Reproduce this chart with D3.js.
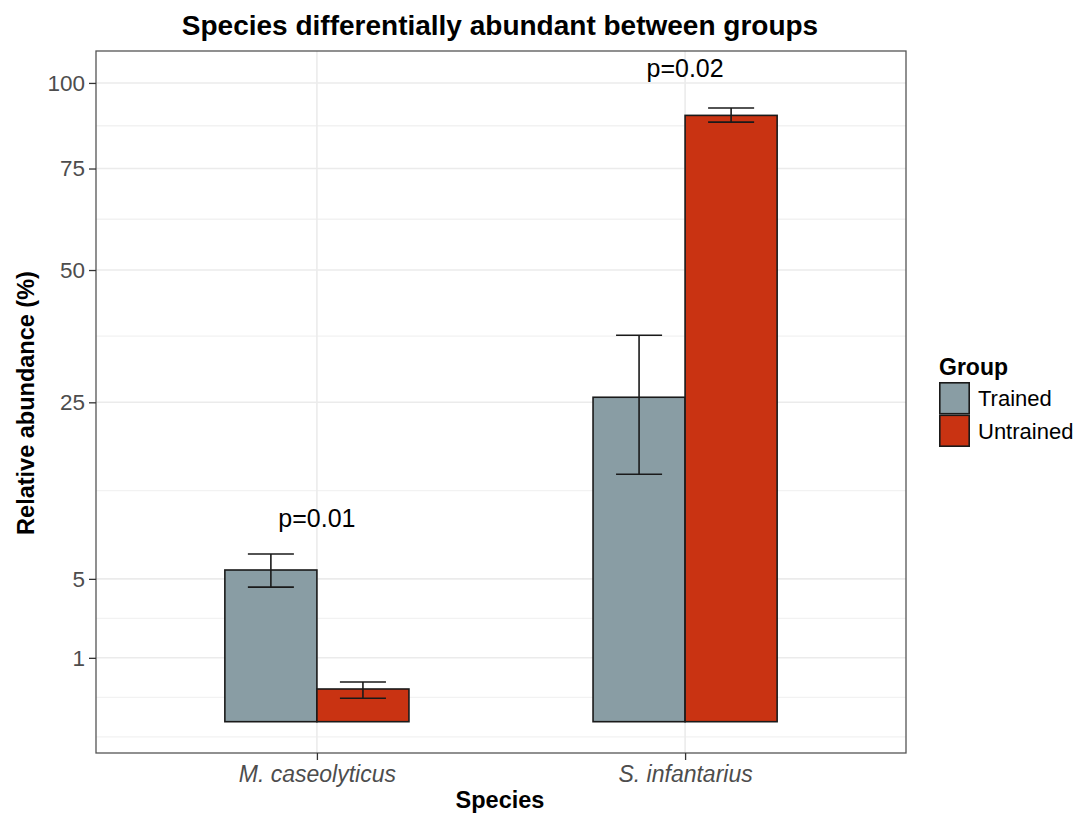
<!DOCTYPE html>
<html>
<head>
<meta charset="utf-8">
<script src="https://cdn.jsdelivr.net/npm/d3@7"></script>
<style>
  html, body { margin: 0; padding: 0; background: #fff; }
  svg { display: block; font-family: "Liberation Sans", Arial, Helvetica, sans-serif; }
</style>
</head>
<body>
<svg id="chart" width="1087" height="818"></svg>
<script>
// Mean relative abundance (%) with error bar limits, per species and group
const species = ["M. caseolyticus", "S. infantarius"];
const groups = ["Trained", "Untrained"];
const groupColors = ["#899DA4", "#C93312"];

const trainedMean = [5.64, 25.8];
const trainedLow  = [4.44, 15.0];
const trainedHigh = [6.89, 36.6];

const untrainedMean = [0.262, 90.1];
const untrainedLow  = [0.134, 88.1];
const untrainedHigh = [0.386, 92.3];

// Significance annotations above each species
const pLabels = ["p=0.01", "p=0.02"];
const pLabelY = [10.2, 104.6];

// Y axis breaks (square-root scale)
const yTicks = [1, 5, 25, 50, 75, 100];

const rows = [];
species.forEach((s, i) => {
  rows.push({ species: s, group: groups[0], mean: trainedMean[i], low: trainedLow[i], high: trainedHigh[i] });
  rows.push({ species: s, group: groups[1], mean: untrainedMean[i], low: untrainedLow[i], high: untrainedHigh[i] });
});

const svg = d3.select("#chart");
const panel = { left: 96, right: 906, top: 51, bottom: 753 };

const x = d3.scalePoint().domain(species).range([panel.left, panel.right]).padding(0.6);
const step = x.step();
const xSub = d3.scaleBand().domain(groups).range([-step * 0.25, step * 0.25]).paddingInner(0);
const color = d3.scaleOrdinal().domain(groups).range(groupColors);

// sqrt scale, domain extends slightly below zero as in the panel
const y = d3.scaleSqrt().domain([-(0.49 * 0.49), 10.5 * 10.5]).range([panel.bottom, panel.top]);
const fromRoot = t => (t < 0 ? -t * t : t * t);

// minor breaks: midpoints (in sqrt space) between majors, extended one step at each end
const roots = yTicks.map(Math.sqrt);
const ext = [roots[0] - (roots[1] - roots[0]), ...roots, roots[roots.length - 1] + (roots[roots.length - 1] - roots[roots.length - 2])];
const minorRoots = [];
for (let i = 0; i < ext.length - 1; i++) minorRoots.push((ext[i] + ext[i + 1]) / 2);
minorRoots.push(ext[0], ext[ext.length - 1]);
const minorVals = minorRoots.map(fromRoot).filter(v => y(v) >= panel.top && y(v) <= panel.bottom);

const grid = svg.append("g");
grid.selectAll("line.minor").data(minorVals).join("line")
  .attr("x1", panel.left).attr("x2", panel.right)
  .attr("y1", d => y(d)).attr("y2", d => y(d))
  .attr("stroke", "#F2F2F2").attr("stroke-width", 1.3);
grid.selectAll("line.major").data(yTicks).join("line")
  .attr("x1", panel.left).attr("x2", panel.right)
  .attr("y1", d => y(d)).attr("y2", d => y(d))
  .attr("stroke", "#EBEBEB").attr("stroke-width", 1.6);
grid.selectAll("line.vmajor").data(species).join("line")
  .attr("x1", d => x(d)).attr("x2", d => x(d))
  .attr("y1", panel.top).attr("y2", panel.bottom)
  .attr("stroke", "#EBEBEB").attr("stroke-width", 1.6);

// bars
svg.append("g").selectAll("rect").data(rows).join("rect")
  .attr("x", d => x(d.species) + xSub(d.group))
  .attr("width", xSub.bandwidth())
  .attr("y", d => y(d.mean))
  .attr("height", d => y(0) - y(d.mean))
  .attr("fill", d => color(d.group))
  .attr("stroke", "#1a1a1a").attr("stroke-width", 1.6);

// error bars
const capHalf = xSub.bandwidth() / 4;
const eb = svg.append("g").attr("stroke", "#1a1a1a").attr("stroke-width", 1.6);
rows.forEach(d => {
  const cx = x(d.species) + xSub(d.group) + xSub.bandwidth() / 2;
  eb.append("line").attr("x1", cx).attr("x2", cx).attr("y1", y(d.low)).attr("y2", y(d.high));
  eb.append("line").attr("x1", cx - capHalf).attr("x2", cx + capHalf).attr("y1", y(d.low)).attr("y2", y(d.low));
  eb.append("line").attr("x1", cx - capHalf).attr("x2", cx + capHalf).attr("y1", y(d.high)).attr("y2", y(d.high));
});

// p-value labels
svg.append("g").selectAll("text").data(species).join("text")
  .attr("x", d => x(d))
  .attr("y", (d, i) => y(pLabelY[i]))
  .attr("dy", "0.36em")
  .attr("text-anchor", "middle")
  .attr("font-size", 25)
  .attr("fill", "#000")
  .text((d, i) => pLabels[i]);

// panel border
svg.append("rect")
  .attr("x", panel.left).attr("y", panel.top)
  .attr("width", panel.right - panel.left).attr("height", panel.bottom - panel.top)
  .attr("fill", "none").attr("stroke", "#555").attr("stroke-width", 1.3);

// axes
const yAxis = d3.axisLeft(y).tickValues(yTicks).tickSize(7).tickPadding(4).tickFormat(d3.format("d"));
const gy = svg.append("g").attr("transform", `translate(${panel.left},0)`).call(yAxis);
gy.select(".domain").remove();
gy.selectAll(".tick line").attr("stroke", "#333").attr("stroke-width", 1.3);
gy.selectAll(".tick text").attr("font-size", 22.5).attr("fill", "#4D4D4D").attr("font-family", null);

const xAxis = d3.axisBottom(x).tickSize(7).tickPadding(6);
const gx = svg.append("g").attr("transform", `translate(0,${panel.bottom})`).call(xAxis);
gx.select(".domain").remove();
gx.selectAll(".tick line").attr("stroke", "#333").attr("stroke-width", 1.3);
gx.selectAll(".tick text").attr("font-size", 23).attr("font-style", "italic")
  .attr("fill", "#4D4D4D").attr("font-family", null);

// titles
svg.append("text").attr("x", 500).attr("y", 35).attr("text-anchor", "middle")
  .attr("font-size", 28).attr("font-weight", "bold").text("Species differentially abundant between groups");
svg.append("text").attr("x", 500).attr("y", 808).attr("text-anchor", "middle")
  .attr("font-size", 23.5).attr("font-weight", "bold").text("Species");
svg.append("text").attr("transform", "translate(34,403) rotate(-90)").attr("text-anchor", "middle")
  .attr("font-size", 23.5).attr("font-weight", "bold").text("Relative abundance (%)");

// legend
const lg = svg.append("g").attr("transform", "translate(939,0)");
lg.append("text").attr("x", 0).attr("y", 375).attr("font-size", 23).attr("font-weight", "bold").text("Group");
const keyH = 32.5, keyW = 31, keyTop = 382;
groups.forEach((g, i) => {
  lg.append("rect").attr("x", 0.8).attr("y", keyTop + i * keyH + 0.8)
    .attr("width", keyW - 1.6).attr("height", keyH - 1.6)
    .attr("fill", color(g)).attr("stroke", "#1a1a1a").attr("stroke-width", 1.6);
  lg.append("text").attr("x", 39).attr("y", keyTop + i * keyH + keyH / 2).attr("dy", "0.36em")
    .attr("font-size", 22).attr("fill", "#000").text(g);
});
</script>
</body>
</html>
